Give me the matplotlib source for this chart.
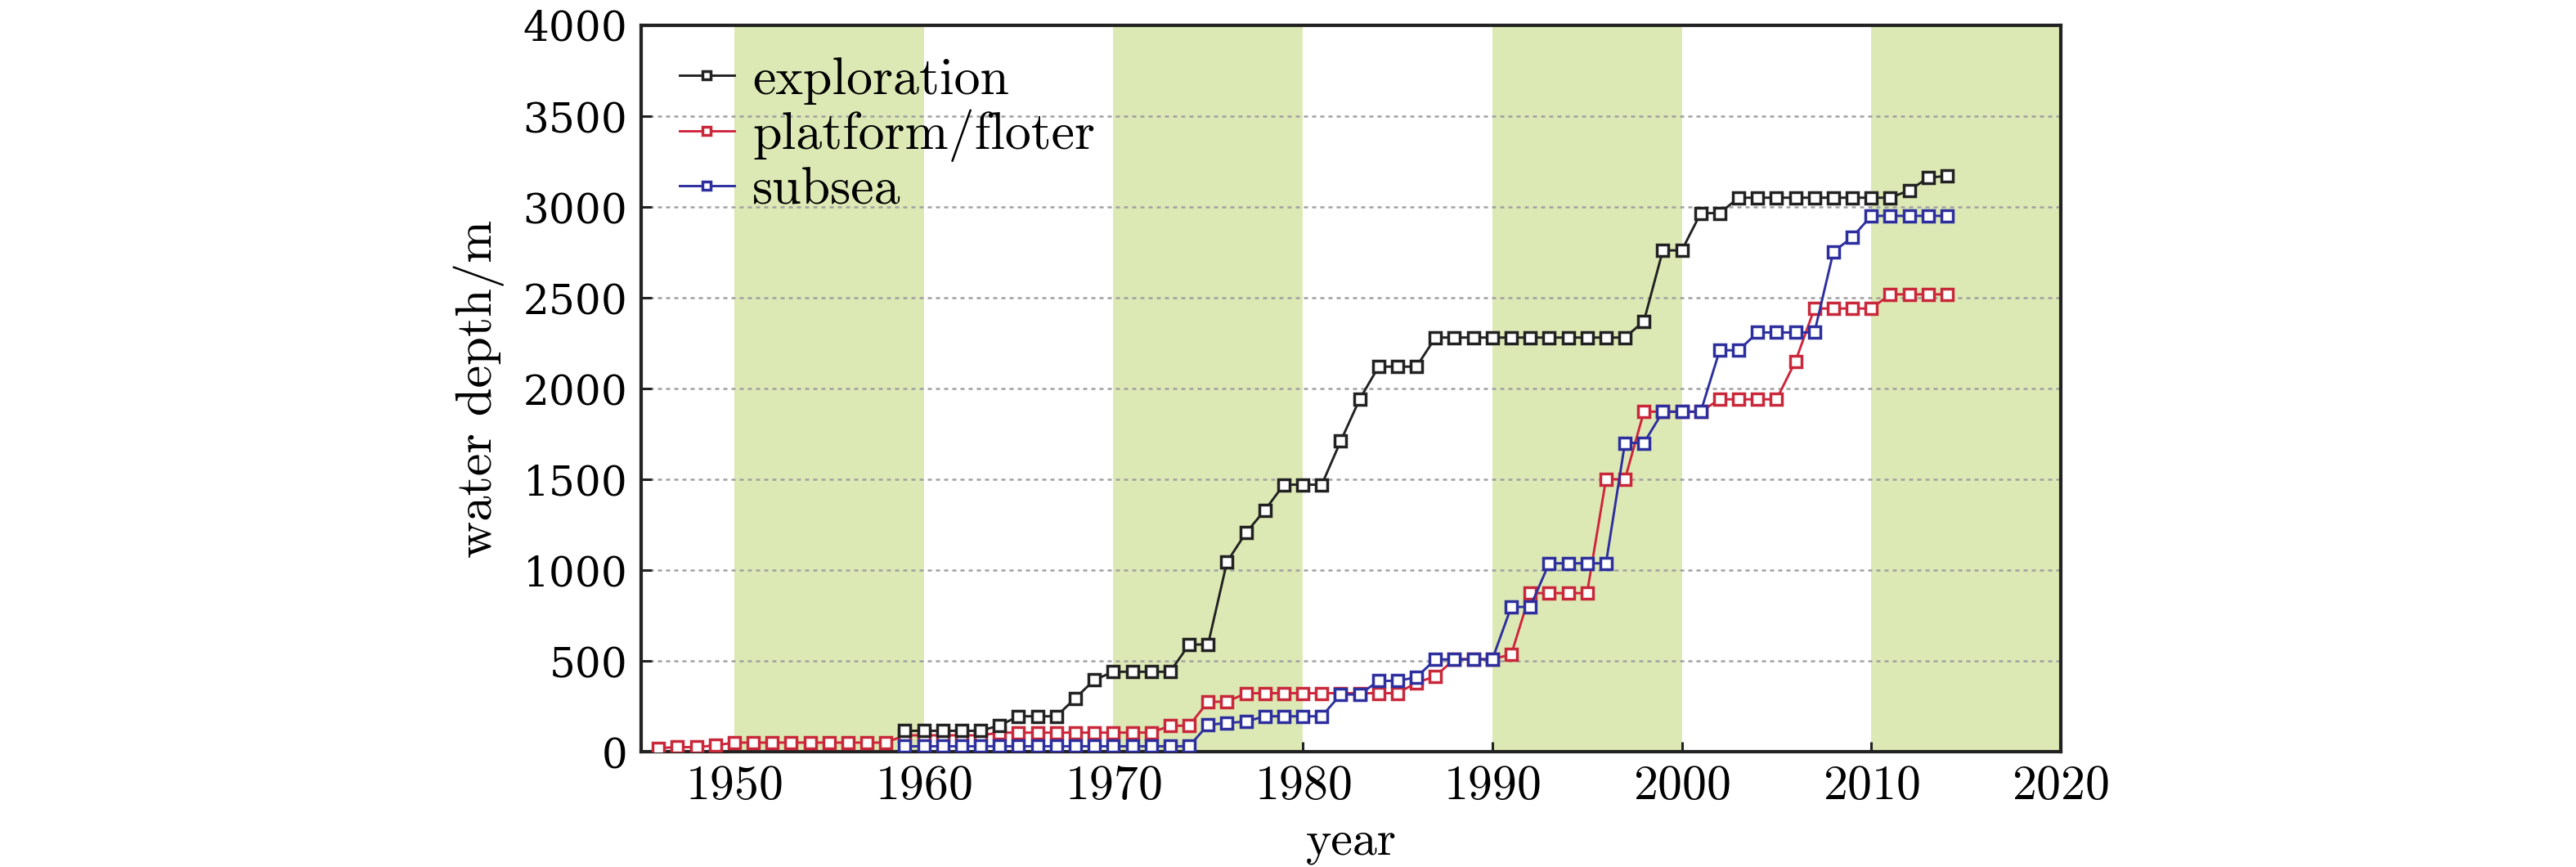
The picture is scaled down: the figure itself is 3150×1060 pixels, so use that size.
import numpy as np
import matplotlib
matplotlib.use('Agg')
import matplotlib.pyplot as plt

# water depth records (m)
explore_years = list(range(1959, 2015))
explore_depth = [115, 115, 115, 115, 115, 145, 195, 195, 195, 295, 395,
                 440, 440, 440, 440, 590, 590, 1045, 1205, 1330,
                 1470, 1470, 1470, 1710, 1940, 2120, 2120, 2120,
                 2280, 2280, 2280, 2280, 2280, 2280, 2280, 2280, 2280, 2280, 2280,
                 2370, 2760, 2760, 2965, 2965,
                 3050, 3050, 3050, 3050, 3050, 3050, 3050, 3050, 3050,
                 3090, 3160, 3170]

platform_years = list(range(1946, 2015))
platform_depth = [20, 25, 25, 35,
                  50, 50, 50, 50, 50, 50, 50, 50, 50,
                  90, 90, 90, 90, 90,
                  105, 105, 105, 105, 105, 105, 105, 105, 105,
                  143, 143, 275, 275,
                  322, 322, 322, 322, 322, 322, 322, 322, 322,
                  380, 415, 510, 510, 510, 535,
                  873, 873, 873, 873, 1500, 1500,
                  1872, 1872, 1872, 1872, 1940, 1940, 1940, 1940,
                  2150, 2440, 2440, 2440, 2440, 2518, 2518, 2518, 2518]

subsea_years = list(range(1959, 2015))
subsea_depth = [30, 30, 30, 30, 30, 30, 30, 30, 30, 30, 30, 30, 30, 30, 30, 30,
                148, 158, 166, 195, 195, 195, 195, 315, 315, 390, 390, 410,
                508, 508, 508, 508, 797, 797, 1037, 1037, 1037, 1037,
                1700, 1700, 1872, 1872, 1872, 2210, 2210,
                2308, 2308, 2308, 2308, 2752, 2833,
                2950, 2950, 2950, 2950, 2950]

band_starts = [1950, 1970, 1990, 2010]
yticks = [0, 500, 1000, 1500, 2000, 2500, 3000, 3500, 4000]
xticks = [1950, 1960, 1970, 1980, 1990, 2000, 2010, 2020]

plt.rcParams['font.family'] = 'cmr10'
plt.rcParams['axes.formatter.use_mathtext'] = True

fig = plt.figure(figsize=(31.5, 10.6), dpi=100)
ax = fig.add_axes([0.249, 0.133, 0.551, 0.838])

for s in band_starts:
    ax.axvspan(s, s + 10, color='#dde9b5', lw=0, zorder=0)

mk = dict(marker='s', ms=10.5, mew=2.5, mfc='white', lw=2.1)
l_plat, = ax.plot(platform_years, platform_depth, color='#d0243c', mec='#c8283a',
                  label='platform/floter', zorder=3, **mk)
l_sub, = ax.plot(subsea_years, subsea_depth, color='#2d2f9e', mec='#2d2f9e',
                 label='subsea', zorder=4, **mk)
l_exp, = ax.plot(explore_years, explore_depth, color='#222222', mec='#222222',
                 label='exploration', zorder=5, **mk)

ax.set_xlim(1945.1, 2020)
ax.set_ylim(0, 4000)
ax.set_xticks(xticks)
ax.set_yticks(yticks)
ax.yaxis.grid(True, linestyle=(0, (2, 2)), color='#a0a0a0', lw=1.8)
ax.set_axisbelow(True)

for sp in ax.spines.values():
    sp.set_linewidth(3)
    sp.set_color('#222222')
ax.tick_params(direction='in', length=9, width=2.2, color='#222222',
               top=False, right=False)
ax.tick_params(axis='x', labelsize=43, pad=12)
ax.tick_params(axis='y', pad=14)
for lab in ax.get_yticklabels():
    lab.set_fontfamily('DejaVu Serif')
    lab.set_fontsize(36)

ax.set_xlabel('year', fontsize=43, labelpad=10)
ax.set_ylabel('water depth/m', fontsize=45, labelpad=16)

leg = ax.legend(handles=[l_exp, l_plat, l_sub], loc='upper left',
                bbox_to_anchor=(0.012, 0.985), frameon=False, fontsize=46,
                handlelength=1.05, handletextpad=0.35, labelspacing=0.1,
                markerscale=0.7, borderaxespad=0)

fig.savefig('out.png', dpi=100)
